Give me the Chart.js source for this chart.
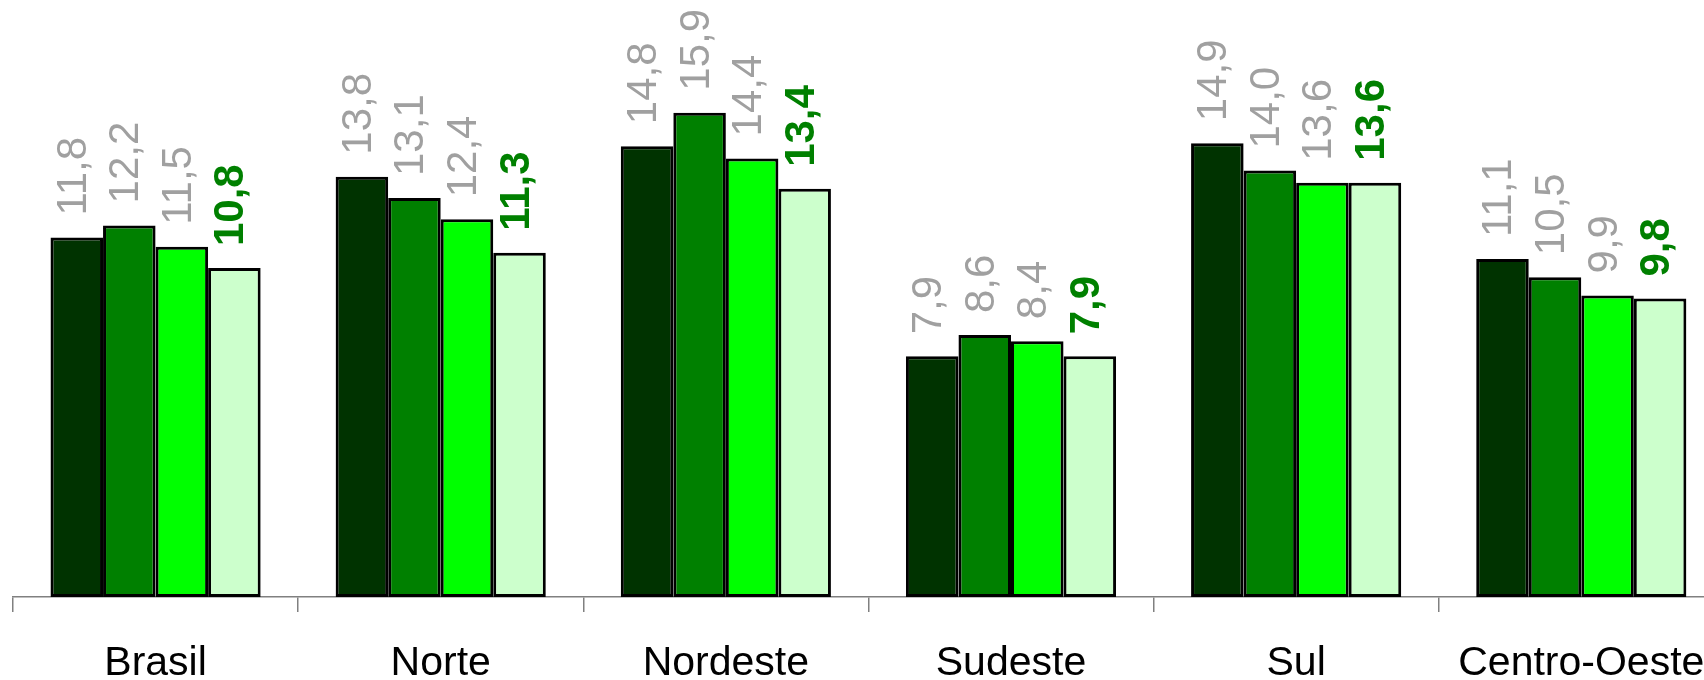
<!DOCTYPE html>
<html>
<head>
<meta charset="utf-8">
<title>Regiões</title>
<script src="https://cdn.jsdelivr.net/npm/chart.js@4"></script>
<style>
  html, body { margin: 0; padding: 0; background: #fff; overflow: hidden; }
  #wrap { width: 1704px; height: 680px; overflow: hidden; }
  canvas { display: block; }
</style>
</head>
<body>
<div id="wrap"><canvas id="chart" width="1741" height="680"></canvas></div>
<script>
// categories and series values
const regions = ['Brasil', 'Norte', 'Nordeste', 'Sudeste', 'Sul', 'Centro-Oeste'];
const serie1 = [11.8, 13.8, 14.8, 7.9, 14.9, 11.1];
const serie2 = [12.2, 13.1, 15.9, 8.6, 14.0, 10.5];
const serie3 = [11.5, 12.4, 14.4, 8.4, 13.6, 9.9];
const serie4 = [10.8, 11.3, 13.4, 7.9, 13.6, 9.8];
const seriesNames = ['Série 1', 'Série 2', 'Série 3', 'Série 4'];

const barColors = ['#003300', '#008000', '#00ff00', '#ccffcc'];
const labelColors = ['#a0a0a0', '#a0a0a0', '#a0a0a0', '#008000'];
const labelWeights = ['normal', 'normal', 'normal', 'bold'];
const FONT = '"Liberation Sans", Arial, sans-serif';

// value labels, rotated, above each bar
const valueLabels = {
  id: 'valueLabels',
  afterDatasetsDraw(chart) {
    const ctx = chart.ctx;
    chart.data.datasets.forEach((ds, i) => {
      const meta = chart.getDatasetMeta(i);
      meta.data.forEach((bar, j) => {
        const txt = ds.data[j].toFixed(1).replace('.', ',');
        ctx.save();
        ctx.translate(bar.x + 9, bar.y - 22);
        ctx.rotate(-Math.PI / 2);
        ctx.font = `${labelWeights[i]} 42px ${FONT}`;
        ctx.fillStyle = labelColors[i];
        ctx.textAlign = 'left';
        ctx.textBaseline = 'alphabetic';
        ctx.fillText(txt, 0, 0);
        ctx.restore();
      });
    });
  }
};

const allSeries = [serie1, serie2, serie3, serie4];

new Chart(document.getElementById('chart').getContext('2d'), {
  type: 'bar',
  data: {
    labels: regions,
    datasets: allSeries.map((s, i) => ({
      label: seriesNames[i],
      data: s,
      backgroundColor: barColors[i],
      borderColor: '#000',
      borderWidth: 3,
      borderSkipped: false,
      categoryPercentage: 0.737,
      barPercentage: 1.0
    }))
  },
  options: {
    responsive: false,
    animation: false,
    layout: { padding: { left: 13, right: 8, top: 0, bottom: 0 } },
    plugins: {
      legend: { display: false },
      tooltip: { enabled: false }
    },
    scales: {
      x: {
        afterFit(scale) { scale.height = 83; },
        grid: {
          display: true,
          drawOnChartArea: false,
          offset: true,
          tickLength: 15,
          color: '#808080',
          lineWidth: 1.5
        },
        border: { display: true, color: '#808080', width: 1.5 },
        ticks: {
          color: '#000',
          padding: 36,
          font: { family: FONT, size: 41, lineHeight: 0.75 }
        }
      },
      y: {
        display: false,
        min: 0,
        max: 19.6
      }
    }
  },
  plugins: [valueLabels]
});
</script>
</body>
</html>
